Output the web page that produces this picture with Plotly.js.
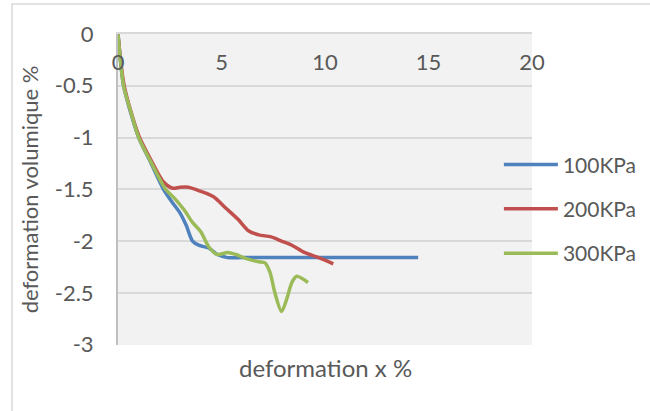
<!DOCTYPE html>
<html>
<head>
<meta charset="utf-8">
<script src="https://cdn.plot.ly/plotly-3.0.1.min.js"></script>
<style>html,body{margin:0;padding:0;background:#fff;}#chart{width:650px;height:411px;}</style>
</head>
<body>
<div id="chart"></div>
<script>
// Data
const seriesNames = ["100KPa", "200KPa", "300KPa"];

const x100 = [0, 0.27, 0.6, 1.0, 1.6, 2.2, 2.6, 3.0, 3.3, 3.6, 3.9, 4.4, 4.8, 5.3, 6.0, 8, 10, 12, 14.5];
const y100 = [0, -0.5, -0.75, -1.0, -1.25, -1.5, -1.62, -1.73, -1.85, -2.0, -2.04, -2.07, -2.13, -2.16, -2.16, -2.16, -2.16, -2.16, -2.16];

const x200 = [0, 0.3, 1.0, 1.6, 2.2, 2.65, 3.0, 3.4, 4.0, 4.6, 5.2, 5.8, 6.3, 6.8, 7.4, 7.9, 8.4, 9.0, 9.7, 10.4];
const y200 = [0, -0.5, -0.98, -1.22, -1.43, -1.49, -1.48, -1.48, -1.52, -1.57, -1.68, -1.79, -1.9, -1.94, -1.96, -2.0, -2.04, -2.11, -2.16, -2.22];

const x300 = [0, 0.27, 0.6, 1.0, 1.6, 2.3, 2.7, 3.2, 3.6, 4.0, 4.4, 4.8, 5.3, 5.7, 6.2, 6.8, 7.1, 7.34, 7.58, 7.9, 8.15, 8.4, 8.63, 9.18];
const y300 = [0, -0.5, -0.74, -1.0, -1.24, -1.5, -1.58, -1.7, -1.82, -1.91, -2.06, -2.13, -2.11, -2.13, -2.17, -2.2, -2.21, -2.3, -2.5, -2.68, -2.56, -2.4, -2.34, -2.4];

const yTickVals = [0, -0.5, -1, -1.5, -2, -2.5, -3];
const yTickText = ["0", "-0.5", "-1", "-1.5", "-2", "-2.5", "-3"];
const xTickVals = [0, 5, 10, 15, 20];
const xTickText = ["0", "5", "10", "15", "20"];

const colors = ["#4f81bd", "#c0504d", "#9bbb59"];
const FONT = "Lato, 'Open Sans', sans-serif";
const TXT = "#595959";

const xs = [x100, x200, x300];
const ys = [y100, y200, y300];
const traces = seriesNames.map((n, i) => ({
  x: xs[i], y: ys[i], name: n, type: "scatter", mode: "lines",
  legendgroup: "g" + i,
  line: {color: colors[i], width: 3.5, shape: "spline", smoothing: 0.8}
}));

const layout = {
  width: 650, height: 411,
  margin: {l: 118, r: 118, t: 34, b: 66, autoexpand: false},
  paper_bgcolor: "#ffffff",
  plot_bgcolor: "#f2f2f2",
  font: {family: FONT, color: TXT, size: 21},
  showlegend: true,
  legend: {
    x: 0.92, y: 0.645, xanchor: "left", yanchor: "top",
    bgcolor: "rgba(0,0,0,0)", font: {family: FONT, size: 21, color: TXT},
    traceorder: "grouped", tracegroupgap: 14, itemwidth: 54
  },
  xaxis: {
    range: [0, 20], tickvals: xTickVals, ticktext: xTickText,
    side: "top", ticklabelposition: "inside", ticklabeloverflow: "allow",
    ticklabelstandoff: 22,
    showline: true, linecolor: "#d9d9d9", linewidth: 2,
    showgrid: false, zeroline: false, ticks: "",
    tickfont: {family: FONT, size: 22, color: TXT}
  },
  yaxis: {
    range: [-3.004, 0], tickvals: yTickVals, ticktext: yTickText,
    showline: true, linecolor: "#bfbfbf", linewidth: 2,
    showgrid: true, gridcolor: "#d9d9d9", gridwidth: 2,
    zeroline: false, ticks: "", ticklabelstandoff: 18,
    tickfont: {family: FONT, size: 22, color: TXT},
    title: {text: "deformation volumique %", font: {family: FONT, size: 22, color: TXT}, standoff: 10}
  },
  annotations: [{
    text: "deformation x %", xref: "paper", yref: "paper",
    x: 0.5, y: 0, yshift: -22, xanchor: "center", yanchor: "middle",
    showarrow: false, font: {family: FONT, size: 24, color: TXT}
  }],
  shapes: [{
    type: "rect", xref: "paper", yref: "paper",
    x0: -0.256, x1: 1.5, y0: -0.5, y1: 1.0965,
    line: {color: "#d9d9d9", width: 1.5}, fillcolor: "rgba(0,0,0,0)", layer: "below"
  }]
};

Plotly.newPlot("chart", traces, layout, {staticPlot: true, displayModeBar: false});
</script>
</body>
</html>
